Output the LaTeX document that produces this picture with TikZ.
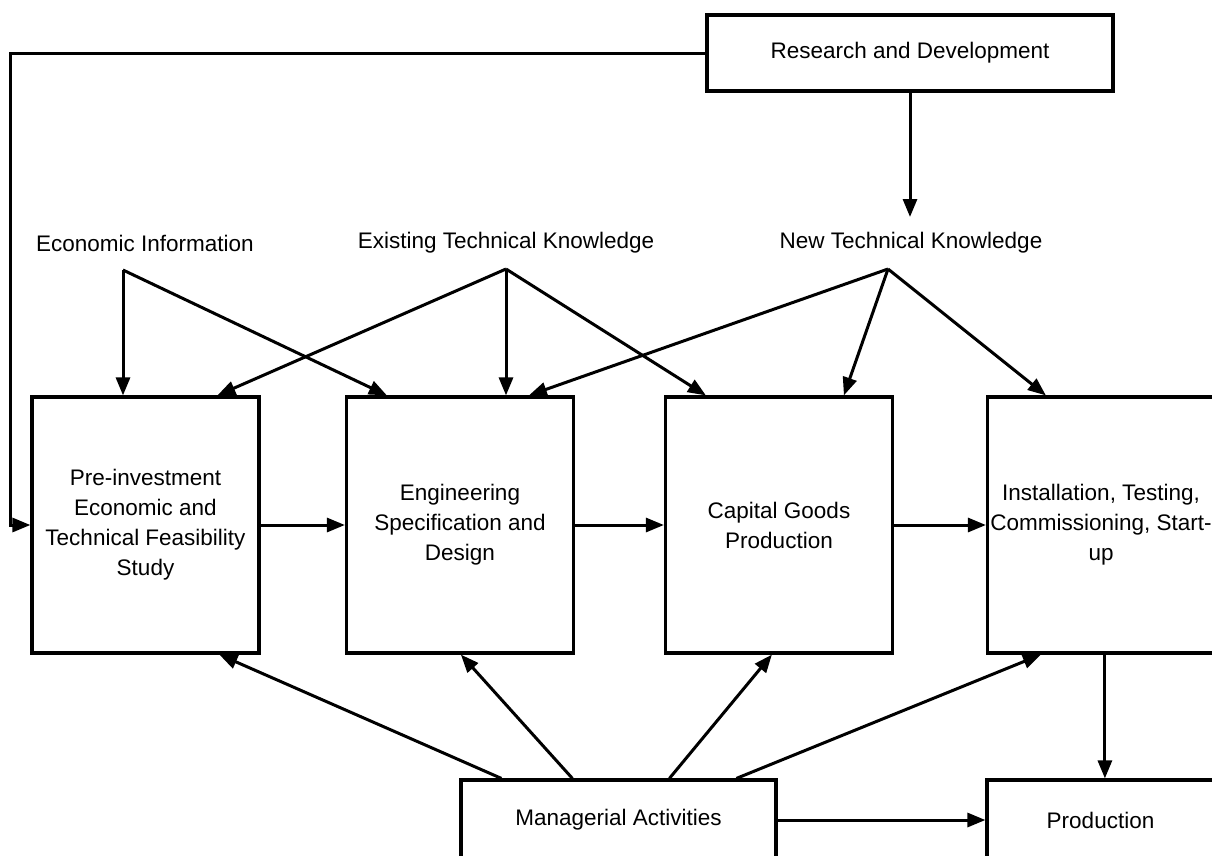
\documentclass[tikz,border=0pt]{standalone}
\usepackage{fontspec}
\setmainfont{Liberation Sans}
\usetikzlibrary{arrows.meta,calc}
\begin{document}
\begin{tikzpicture}[x=1pt,y=-1pt,
  txt/.style={font=\fontsize{22.5}{30}\selectfont},
  box/.style={draw,line width=3.2pt,minimum width=227pt,minimum height=256pt,
    align=center,inner sep=0pt,txt},
  flatbox/.style={draw,line width=3.2pt,minimum height=76pt,inner sep=0pt,txt},
  lbl/.style={inner sep=0pt,txt},
  arr/.style={line width=3pt,-{Triangle[length=18pt,width=14pt]}}]
\useasboundingbox (0,0) rectangle (1212,855);
\clip (0,0) rectangle (1212,855);
\fill[white] (0,0) rectangle (1212,855);
% boxes
\node[flatbox,minimum width=406pt] (rd) at (910,53) {Research and Development};
\node[box] (b1) at (145.5,525) {Pre-investment\\Economic and\\Technical Feasibility\\Study};
\node[box] (b2) at (460,525) {Engineering\\Specification and\\Design};
\node[box] (b3) at (779,525) {Capital Goods\\Production};
\node[box] (b4) at (1101,525) {Installation, Testing,\\Commissioning, Start-\\up};
\node[flatbox,minimum width=315pt,minimum height=80pt] (mg) at (618.5,820) {Managerial Activities};
\node[flatbox,minimum width=227pt,minimum height=80pt] (pr) at (1100.5,820) {Production};
% labels
\node[lbl] (ei) at (145,243) {Economic Information};
\node[lbl] (et) at (506,243) {Existing Technical Knowledge};
\node[lbl] (nt) at (911,243) {New Technical Knowledge};
% fork points
\coordinate (eF) at (123,270);
\coordinate (etF) at (506,269);
\coordinate (ntF) at (888,269);
\coordinate (ntTip) at (910,217);
\coordinate (lcorner) at (10,53);
% R&D connectors
\draw[arr] (rd.west) -- (lcorner) |- (b1.west);
\draw[arr] (rd.south) -- (ntTip);
% Economic information
\draw[arr] (eF) -- (b1.north -| eF);
\draw[arr] (eF) -- ([xshift=42pt]b2.north west);
% Existing technical knowledge
\draw[arr] (etF) -- ([xshift=187pt]b1.north west);
\draw[arr] (etF) -- (b2.north -| etF);
\draw[arr] (etF) -- ([xshift=42pt]b3.north west);
% New technical knowledge
\draw[arr] (ntF) -- ([xshift=184pt]b2.north west);
\draw[arr] (ntF) -- ([xshift=180pt]b3.north west);
\draw[arr] (ntF) -- ([xshift=60pt]b4.north west);
% chain
\draw[arr] (b1.east) -- (b2.west);
\draw[arr] (b2.east) -- (b3.west);
\draw[arr] (b3.east) -- (b4.west);
% managerial
\draw[arr] ([xshift=42pt]mg.north west) -- ([xshift=189pt]b1.south west);
\draw[arr] ([xshift=113pt]mg.north west) -- ([xshift=116pt]b2.south west);
\draw[arr] ([xshift=210pt]mg.north west) -- ([xshift=108pt]b3.south west);
\draw[arr] ([xshift=277pt]mg.north west) -- ([xshift=55pt]b4.south west);
\draw[arr] (mg.east) -- (pr.west);
% installation to production
\coordinate (b4out) at ([xshift=119pt]b4.south west);
\draw[arr] (b4out) -- (b4out |- pr.north);
\end{tikzpicture}
\end{document}
